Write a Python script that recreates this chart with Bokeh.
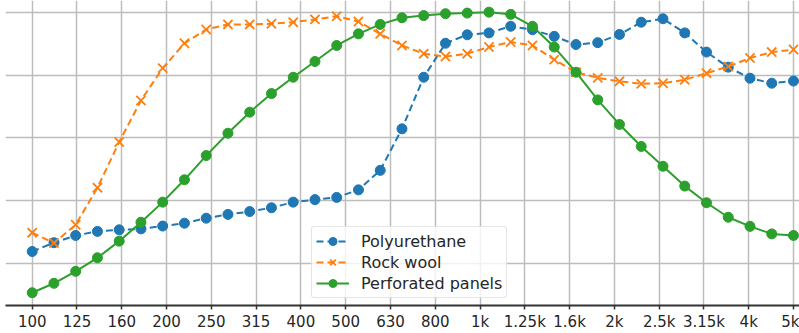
from bokeh.plotting import figure
from bokeh.models import FixedTicker, Range1d, Legend, LegendItem
from bokeh.embed import file_html
from bokeh.resources import INLINE

freq_labels = ["100", "125", "160", "200", "250", "315", "400", "500", "630", "800",
               "1k", "1.25k", "1.6k", "2k", "2.5k", "3.15k", "4k", "5k"]

polyurethane = [0.239, 0.267, 0.290, 0.303, 0.308, 0.311, 0.320, 0.329, 0.345, 0.357,
                0.366, 0.378, 0.396, 0.404, 0.411, 0.435, 0.497, 0.629, 0.793, 0.901,
                0.928, 0.934, 0.955, 0.944, 0.923, 0.897, 0.903, 0.929, 0.968, 0.979,
                0.934, 0.873, 0.825, 0.790, 0.774, 0.781]

rock_wool = [0.299, 0.266, 0.324, 0.442, 0.587, 0.719, 0.822, 0.901, 0.945, 0.961,
             0.961, 0.963, 0.968, 0.977, 0.987, 0.970, 0.931, 0.894, 0.868, 0.859,
             0.868, 0.889, 0.905, 0.894, 0.849, 0.809, 0.791, 0.780, 0.772, 0.774,
             0.785, 0.806, 0.827, 0.854, 0.873, 0.881]

perforated = [0.108, 0.138, 0.176, 0.219, 0.272, 0.332, 0.396, 0.467, 0.544, 0.615,
              0.682, 0.741, 0.793, 0.843, 0.894, 0.931, 0.961, 0.982, 0.989, 0.995,
              0.997, 1.000, 0.993, 0.955, 0.889, 0.809, 0.721, 0.643, 0.573, 0.510,
              0.447, 0.394, 0.348, 0.319, 0.295, 0.290]

grid_values = [0.2, 0.4, 0.6, 0.8, 1.0]

n = len(polyurethane)
span = len(freq_labels) - 1
xs = [j * span / (n - 1) for j in range(n)]

p = figure(width=799, height=333, output_backend="svg", toolbar_location=None,
           x_range=Range1d(-0.596, 17.134), y_range=Range1d(0.0674, 1.037),
           min_border_left=5, min_border_right=0, min_border_top=0, min_border_bottom=28)
p.outline_line_color = None
p.background_fill_color = "white"

p.yaxis.visible = False
p.ygrid.ticker = FixedTicker(ticks=grid_values)
p.xgrid.ticker = FixedTicker(ticks=list(range(len(freq_labels))))
for g in (p.xgrid, p.ygrid):
    g.grid_line_color = "#bdbdbd"
    g.grid_line_width = 1.5

ax = p.xaxis[0]
ax.ticker = FixedTicker(ticks=list(range(len(freq_labels))))
ax.major_label_overrides = {i: lab for i, lab in enumerate(freq_labels)}
ax.axis_line_color = "#333333"
ax.axis_line_width = 2
ax.major_tick_line_color = "#333333"
ax.major_tick_line_width = 1.5
ax.major_tick_out = 4
ax.major_tick_in = 0
ax.minor_tick_line_color = None
ax.major_label_text_font = "DejaVu Sans"
ax.major_label_text_font_size = "15px"
ax.major_label_text_color = "#262626"
ax.major_label_standoff = 3

blue, orange, green = "#1f77b4", "#ff7f0e", "#2ca02c"

l1 = p.line(xs, polyurethane, line_color=blue, line_width=2, line_dash="7 4")
m1 = p.scatter(xs, polyurethane, marker="circle", size=10, fill_color=blue, line_color=blue)
l2 = p.line(xs, rock_wool, line_color=orange, line_width=2, line_dash="7 4")
m2 = p.scatter(xs, rock_wool, marker="x", size=13, line_color=orange, line_width=1.8)
l3 = p.line(xs, perforated, line_color=green, line_width=2)
m3 = p.scatter(xs, perforated, marker="circle", size=10, fill_color=green, line_color=green)

legend = Legend(items=[
    LegendItem(label="Polyurethane", renderers=[l1, m1]),
    LegendItem(label="Rock wool", renderers=[l2, m2]),
    LegendItem(label="Perforated panels", renderers=[l3, m3]),
], location=(306, 7))
legend.label_text_font = "DejaVu Sans"
legend.label_text_font_size = "16px"
legend.label_text_color = "#262626"
legend.glyph_width = 33
legend.glyph_height = 20
legend.label_height = 20
legend.label_standoff = 12
legend.spacing = 1
legend.padding = 4
legend.margin = 0
legend.border_line_color = "#cccccc"
legend.border_line_width = 1
legend.border_radius = 3
legend.background_fill_color = "white"
legend.background_fill_alpha = 0.8
p.add_layout(legend, "center")

open("out.html", "w").write(file_html(p, INLINE))
